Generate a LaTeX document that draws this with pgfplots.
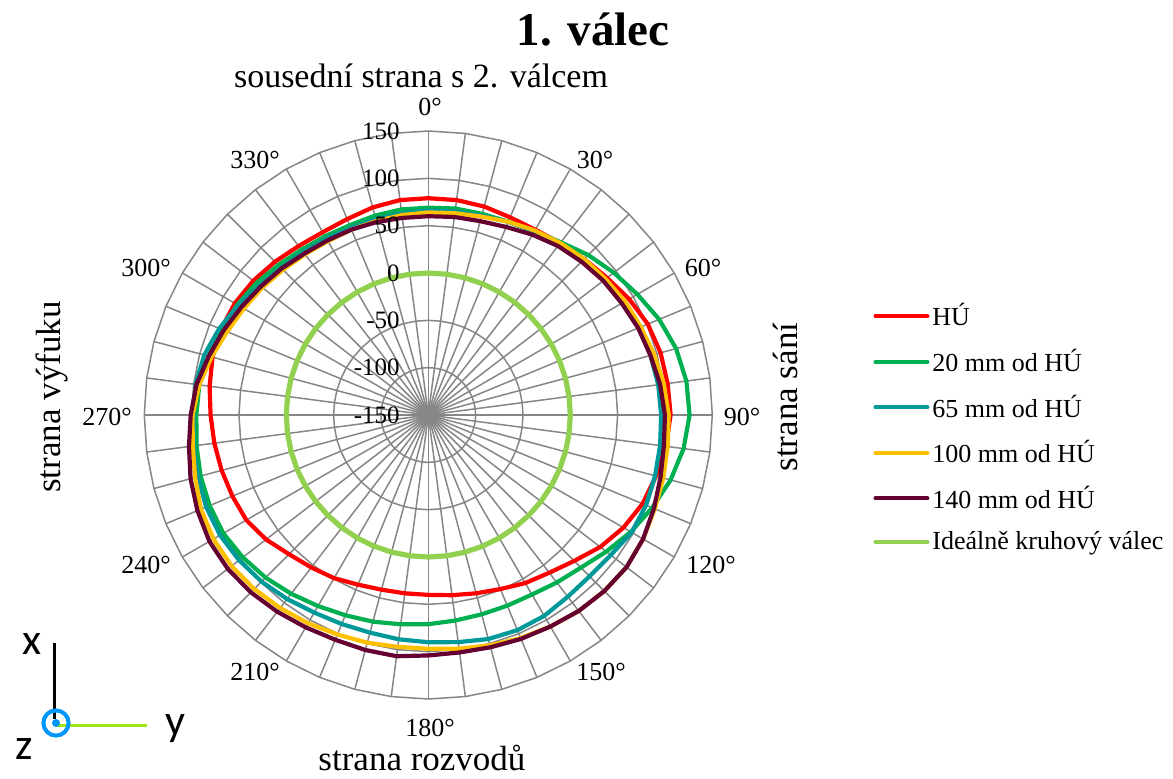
\documentclass[border=0pt]{standalone}
\usepackage{pgfplots}
\pgfplotsset{compat=1.18}
\usepackage{pgfplotstable}
\usepackage{fontspec}
\setmainfont{Liberation Serif}
\newfontfamily\iconfont{Carlito}

\definecolor{cHU}{RGB}{255,0,0}
\definecolor{c20}{RGB}{0,176,80}
\definecolor{c65}{RGB}{0,153,153}
\definecolor{c100}{RGB}{255,192,0}
\definecolor{c140}{RGB}{100,0,50}
\definecolor{cIdeal}{RGB}{146,208,80}
\definecolor{gridc}{RGB}{134,134,134}
\definecolor{iconblue}{RGB}{0,150,255}
\definecolor{icongreen}{RGB}{160,230,20}

\pgfplotstableread{
a     hu  mm20 mm65 mm100 mm140 ideal
0     79  69   66   64    60    0
7.5   79  70   67   65    61    0
15    78  70   68   67    62    0
22.5  76  71   71   71    65    0
30    76  74   74   75    70    0
37.5  79  80   78   79    75    0
45    83  89   81   83    79    0
52.5  88  97   84   86    83    0
60    95  105  88   90    86    0
67.5  101 114  91   93    90    0
75    104 121  93   97    93    0
82.5  105 125  95   101   97    0
90    106 126  96   104   100   0
97.5  103 122  97   105   101   0
105   99  115  98   107   104   0
112.5 95  106  99   109   108   0
120   88  97   98   112   112   0
127.5 79  87   93   114   114   0
135   68  78   91   113   113   0
142.5 60  73   92   111   111   0
150   55  69   95   108   108   0
157.5 49  68   96   105   106   0
165   45  68   95   102   104   0
172.5 42  69   92   99    103   0
180   40  71   90   97    104   0
187.5 40  73   89   97    107   0
195   41  76   88   99    107   0
202.5 44  79   89   101   107   0
210   49  83   91   104   109   0
217.5 53  88   95   107   112   0
225   58  93   99   110   115   0
232.5 66  97   102  112   117   0
240   72  100  104  112   117   0
247.5 74  100  104  110   114   0
255   76  99   102  105   110   0
262.5 78  97   100  101   105   0
270   80  95   98   99    101   0
277.5 83  94   98   94    97    0
285   86  90   95   87    90    0
292.5 87  86   89   80    84    0
300   86  83   82   75    78    0
307.5 83  79   75   71    73    0
315   79  74   70   67    69    0
322.5 75  70   67   64    65    0
330   73  68   65   62    63    0
337.5 74  67   64   62    62    0
345   77  68   64   62    61    0
352.5 79  69   65   63    60    0
360   79  69   66   64    60    0
}\polardata

\begin{document}
\begin{tikzpicture}
% radar grid (web)
\foreach \k in {0,...,47} \draw[gridc, line width=0.75pt] (0,0) -- ({90-7.5*\k}:142pt);
\foreach \r in {1,...,6} \draw[gridc, line width=0.75pt] (90:{\r*23.6667pt}) \foreach \k in {1,...,47} { -- ({90-7.5*\k}:{\r*23.6667pt}) } -- cycle;

\begin{axis}[
  at={(0,0)}, anchor=center,
  hide axis,
  x=0.473333pt, y=0.473333pt,
  xmin=-300, xmax=300, ymin=-300, ymax=300,
  clip=false,
  legend cell align=left,
  legend style={at={(1.283,0.702)}, anchor=north west, draw=none, fill=none,
    font=\fontsize{13}{15}\selectfont, row sep=7.1pt, inner sep=0pt,
    nodes={inner sep=1.5pt}},
  legend image code/.code={\draw[#1, line width=2pt, line cap=round] (0pt,0pt) -- (26pt,0pt);},
  every axis plot/.append style={line join=round},
]
\addplot[cHU, line width=2.1pt] table[x expr={(\thisrow{hu}+150)*sin(\thisrow{a})}, y expr={(\thisrow{hu}+150)*cos(\thisrow{a})}]{\polardata};
\addlegendentry{HÚ}
\addplot[c20, line width=2.1pt] table[x expr={(\thisrow{mm20}+150)*sin(\thisrow{a})}, y expr={(\thisrow{mm20}+150)*cos(\thisrow{a})}]{\polardata};
\addlegendentry{20 mm od HÚ}
\addplot[c65, line width=2.1pt] table[x expr={(\thisrow{mm65}+150)*sin(\thisrow{a})}, y expr={(\thisrow{mm65}+150)*cos(\thisrow{a})}]{\polardata};
\addlegendentry{65 mm od HÚ}
\addplot[c100, line width=2.1pt] table[x expr={(\thisrow{mm100}+150)*sin(\thisrow{a})}, y expr={(\thisrow{mm100}+150)*cos(\thisrow{a})}]{\polardata};
\addlegendentry{100 mm od HÚ}
\addplot[c140, line width=2.1pt] table[x expr={(\thisrow{mm140}+150)*sin(\thisrow{a})}, y expr={(\thisrow{mm140}+150)*cos(\thisrow{a})}]{\polardata};
\addlegendentry{140 mm od HÚ}
\addplot[cIdeal, line width=2.6pt] table[x expr={(\thisrow{ideal}+150)*sin(\thisrow{a})}, y expr={(\thisrow{ideal}+150)*cos(\thisrow{a})}]{\polardata};
\addlegendentry{Ideálně kruhový válec}
\end{axis}

% radial value labels
\foreach \v/\i in {150/6,100/5,50/4,0/3,-50/2,-100/1,-150/0}
  \node[anchor=east, inner sep=0pt, font=\fontsize{12.5}{14}\selectfont] at (-14.15pt,{\i*23.6667pt}) {\v};

% angle labels
\foreach \t/\lx/\ly in {0/0.85/154, 30/83.35/127.5, 60/137.35/73.5, 90/156.85/-1,
    120/141.35/-75, 150/86.35/-128.5, 180/0.85/-156.5, 210/-86.65/-128.5,
    240/-141.15/-75, 270/-160.65/-1, 300/-141.15/73.5, 330/-86.65/127.5}
  \node[inner sep=0pt, font=\fontsize{13}{15}\selectfont] at (\lx pt,\ly pt) {\t°};

% titles and side labels
\node[font=\fontsize{23.5}{26}\selectfont\bfseries] at (82.35pt,192.5pt) {1. válec};
\node[font=\fontsize{17}{19}\selectfont] at (-3.65pt,169.5pt) {sousední strana s 2. válcem};
\node[font=\fontsize{17.5}{19}\selectfont, rotate=90] at (-188.15pt,9pt) {strana výfuku};
\node[font=\fontsize{17.5}{19}\selectfont, rotate=90] at (178.85pt,9pt) {strana sání};
\node[font=\fontsize{17.5}{19}\selectfont] at (-3.15pt,-171.5pt) {strana rozvodů};

% coordinate icon
\draw[black, line width=1.5pt] (-186.65pt,-114pt) -- (-186.65pt,-152pt);
\draw[icongreen, line width=1.5pt] (-185.65pt,-155pt) -- (-140.65pt,-155pt);
\draw[iconblue, line width=2pt] (-186.15pt,-154pt) circle (6.3pt);
\fill[iconblue] (-186.15pt,-154pt) circle (2pt);
\node[font=\iconfont\fontsize{22}{24}\selectfont] at (-198.15pt,-114.5pt) {x};
\node[font=\iconfont\fontsize{22}{24}\selectfont] at (-126.65pt,-157pt) {y};
\node[font=\iconfont\fontsize{22}{24}\selectfont] at (-202.15pt,-167pt) {z};

\pgfresetboundingbox
\useasboundingbox (-214.15pt,207.5pt) rectangle (372.35pt,-181.5pt);
\end{tikzpicture}
\end{document}
